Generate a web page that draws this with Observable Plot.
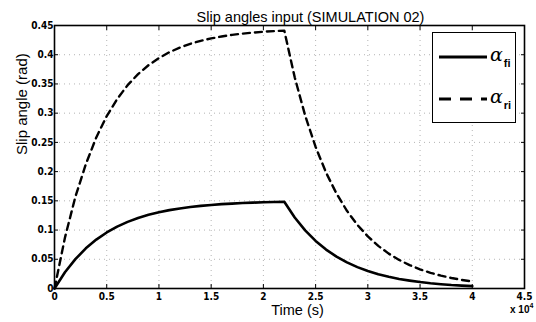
<!DOCTYPE html>
<html>
<head>
<meta charset="utf-8">
<script src="https://cdn.jsdelivr.net/npm/d3@7"></script>
<script src="https://cdn.jsdelivr.net/npm/@observablehq/plot@0.6"></script>
<style>
  html, body { margin: 0; padding: 0; background: #fff; }
  #wrap { position: relative; width: 536px; height: 322px; font-family: Arial, "Liberation Sans", sans-serif; }
  #legend { position: absolute; left: 432px; top: 32px; width: 82px; height: 89px; border: 1.6px solid #000; background: #fff; }
  .lab { position: absolute; font-family: "DejaVu Serif", serif; font-style: italic; font-size: 19px; line-height: 19px; }
  .lab sub { font-family: Arial, "Liberation Sans", sans-serif; font-style: normal; font-weight: bold; font-size: 11px; vertical-align: -6px; margin-left: 1px; }
</style>
</head>
<body>
<div id="wrap"></div>
<script>
// time in units of 10^4 s
const timeE4 = [0,0.1,0.2,0.3,0.4,0.5,0.6,0.7,0.8,0.9,1.0,1.1,1.2,1.3,1.4,1.5,1.6,1.7,1.8,1.9,2.0,2.1,2.2,2.3,2.4,2.5,2.6,2.7,2.8,2.9,3.0,3.1,3.2,3.3,3.4,3.5,3.6,3.7,3.8,3.9,4.0];
const alphaFront = [0,0.0277,0.0502,0.0687,0.0837,0.0959,0.1059,0.1140,0.1207,0.1261,0.1305,0.1341,0.1370,0.1394,0.1414,0.1430,0.1443,0.1453,0.1462,0.1469,0.1475,0.1479,0.1483,0.1214,0.0994,0.0814,0.0666,0.0546,0.0447,0.0366,0.0299,0.0245,0.0201,0.0164,0.0135,0.0110,0.0090,0.0074,0.0060,0.0050,0.0041];
const alphaRear = [0,0.0870,0.1569,0.2127,0.2585,0.2949,0.3242,0.3479,0.3668,0.3821,0.3944,0.4043,0.4122,0.4187,0.4238,0.4279,0.4312,0.4340,0.4361,0.4378,0.4393,0.4404,0.4413,0.3613,0.2958,0.2422,0.1983,0.1624,0.1329,0.1088,0.0891,0.0729,0.0597,0.0489,0.0400,0.0328,0.0268,0.0220,0.0180,0.0147,0.0120];
const xTicks = [0,0.5,1,1.5,2,2.5,3,3.5,4,4.5];
const yTicks = [0,0.05,0.1,0.15,0.2,0.25,0.3,0.35,0.4,0.45];
const titleText = "Slip angles input (SIMULATION 02)";
const xLabel = "Time (s)";
const yLabel = "Slip angle (rad)";

const front = timeE4.map((t, i) => ({t, v: alphaFront[i]}));
const rear = timeE4.map((t, i) => ({t, v: alphaRear[i]}));
const fmt = d => String(+d.toFixed(2));
const tickFont = {fontWeight: "bold", fontSize: 10, fontFamily: "'Liberation Sans Narrow', 'DejaVu Sans Condensed', Arial, sans-serif"};

const chart = Plot.plot({
  width: 536, height: 322,
  marginLeft: 54, marginRight: 12, marginTop: 25, marginBottom: 34,
  style: {fontFamily: "Arial, 'Liberation Sans', sans-serif", background: "#fff", color: "#000"},
  x: {domain: [0, 4.5]},
  y: {domain: [0, 0.45]},
  marks: [
    Plot.gridX(xTicks, {stroke: "#777", strokeOpacity: 0.55, strokeDasharray: "1,4"}),
    Plot.gridY(yTicks, {stroke: "#777", strokeOpacity: 0.55, strokeDasharray: "1,4"}),
    Plot.axisX({ticks: xTicks, tickSize: -4, tickPadding: 8, tickFormat: fmt, label: null, ...tickFont}),
    Plot.axisX({anchor: "top", ticks: xTicks, tickSize: -4, tickFormat: () => "", label: null}),
    Plot.axisY({ticks: yTicks, tickSize: -4, tickPadding: 5, tickFormat: fmt, label: null, ...tickFont}),
    Plot.axisY({anchor: "right", ticks: yTicks, tickSize: -4, tickFormat: () => "", label: null}),
    Plot.line(front, {x: "t", y: "v", stroke: "#000", strokeWidth: 2.6}),
    Plot.line(rear, {x: "t", y: "v", stroke: "#000", strokeWidth: 2.4, strokeDasharray: "7,5"}),
    Plot.frame({stroke: "#000", strokeWidth: 1.6}),
    Plot.text([titleText], {frameAnchor: "top", dy: -14, dx: 21, fontSize: 14.5}),
    Plot.text([xLabel], {frameAnchor: "bottom", dy: 26, dx: 8, fontSize: 14.5}),
    Plot.text([yLabel], {frameAnchor: "left", rotate: -90, dx: -32, dy: -2, fontSize: 15}),
  ]
});
const wrap = document.getElementById("wrap");
wrap.appendChild(chart);

// x 10^4 multiplier
const mult = document.createElement("div");
mult.style.cssText = "position:absolute;left:510px;top:302px;font-size:10px;font-weight:bold;font-family:'Liberation Sans Narrow',Arial,sans-serif;";
mult.innerHTML = "x 10<sup style='font-size:7px;vertical-align:5px'>4</sup>";
wrap.appendChild(mult);

// legend
const legend = document.createElement("div");
legend.id = "legend";
legend.innerHTML = `
<svg width="82" height="89" style="position:absolute;left:0;top:0">
  <line x1="6" x2="54" y1="24" y2="24" stroke="#000" stroke-width="3"/>
  <line x1="6" x2="54" y1="66" y2="66" stroke="#000" stroke-width="3" stroke-dasharray="12,9"/>
</svg>
<div class="lab" style="left:57px;top:12px">α<sub>fi</sub></div>
<div class="lab" style="left:57px;top:54px">α<sub>ri</sub></div>`;
wrap.appendChild(legend);
</script>
</body>
</html>
